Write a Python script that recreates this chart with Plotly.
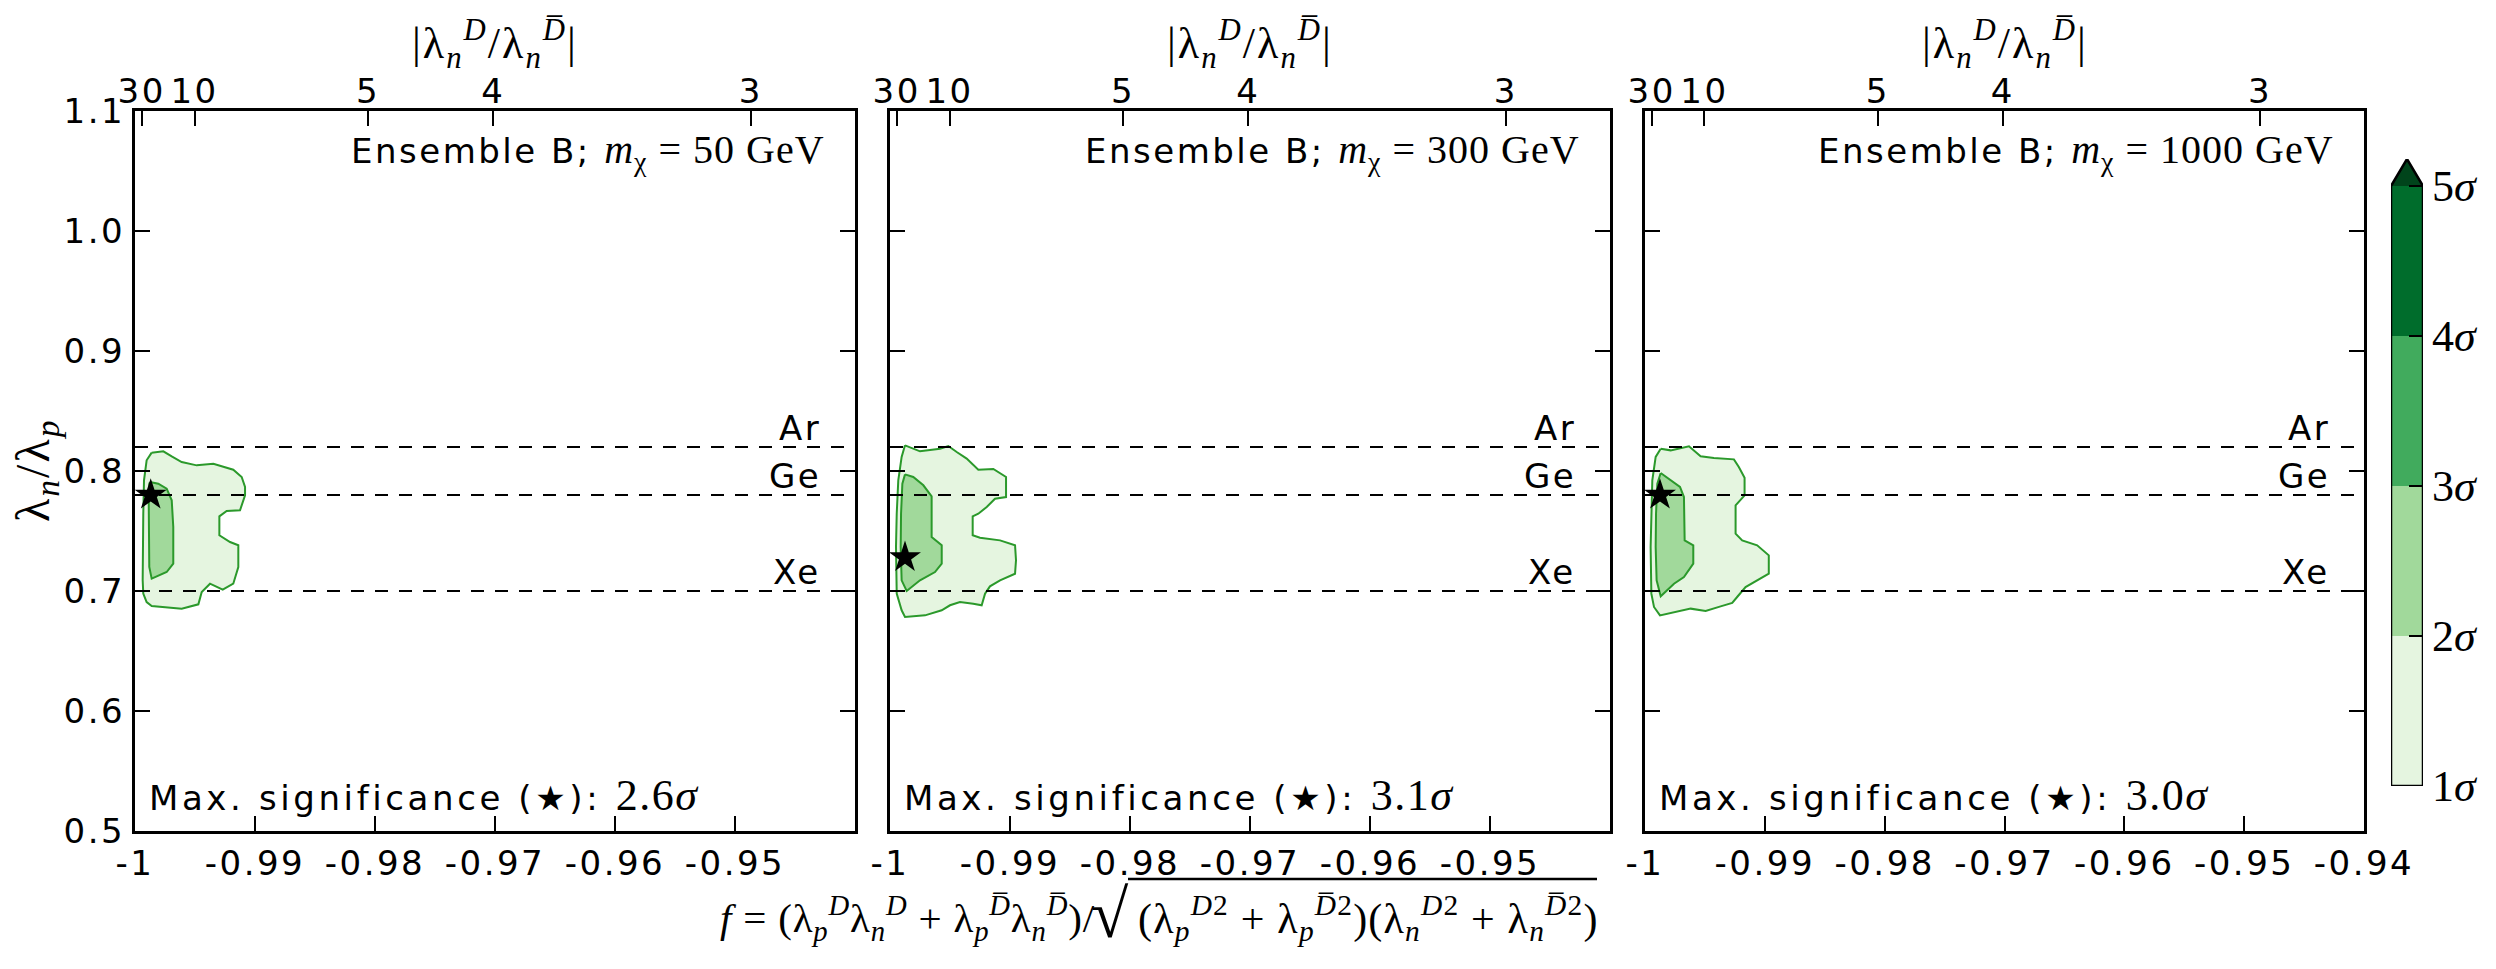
import numpy as np
import plotly.graph_objects as go

W, H = 2496, 969

# ---------------- data ----------------
masses = [50, 300, 1000]
max_sig = ["2.6", "3.1", "3.0"]
star_f = [-0.99869, -0.99875, -0.99875]
star_l = [0.780, 0.728, 0.780]

# 1-sigma (outer) contours
outer1_f = [-0.99861, -0.99764, -0.99694, -0.99611, -0.99486, -0.99347, -0.99181, -0.99111, -0.99083, -0.99083,
            -0.99125, -0.99236, -0.99297, -0.99297, -0.99208, -0.99139, -0.99139, -0.99181, -0.99269, -0.99375,
            -0.99444, -0.99472, -0.99611, -0.99736, -0.99861, -0.99903, -0.99931, -0.99936, -0.99936, -0.99931,
            -0.99925, -0.99903]
outer1_l = [0.8153, 0.8164, 0.8122, 0.8075, 0.8047, 0.8061, 0.8011, 0.7950, 0.7867, 0.7797,
            0.7672, 0.7667, 0.7622, 0.7464, 0.7408, 0.7381, 0.7200, 0.7061, 0.7011, 0.7061,
            0.6992, 0.6889, 0.6853, 0.6867, 0.6875, 0.6908, 0.6978, 0.7089, 0.7367, 0.7644,
            0.7922, 0.8089]
outer2_f = [-0.99875, -0.99750, -0.99583, -0.99514, -0.99444, -0.99361, -0.99264, -0.99139, -0.99033, -0.99033,
            -0.99125, -0.99194, -0.99264, -0.99311, -0.99311, -0.99250, -0.99083, -0.98958, -0.98950, -0.98958,
            -0.99083, -0.99167, -0.99208, -0.99236, -0.99306, -0.99417, -0.99500, -0.99569, -0.99708, -0.99875,
            -0.99903, -0.99944, -0.99950, -0.99944, -0.99931, -0.99903]
outer2_l = [0.8214, 0.8164, 0.8186, 0.8208, 0.8158, 0.8103, 0.8011, 0.8017, 0.7950, 0.7783,
            0.7769, 0.7700, 0.7644, 0.7622, 0.7464, 0.7444, 0.7422, 0.7381, 0.7256, 0.7144,
            0.7089, 0.7039, 0.6978, 0.6881, 0.6894, 0.6908, 0.6881, 0.6839, 0.6797, 0.6783,
            0.6839, 0.6978, 0.7367, 0.7644, 0.7922, 0.8117]
outer3_f = [-0.99869, -0.99786, -0.99633, -0.99536, -0.99425, -0.99258, -0.99217, -0.99169, -0.99169, -0.99244,
            -0.99244, -0.99189, -0.99064, -0.98967, -0.98967, -0.99064, -0.99161, -0.99231, -0.99272, -0.99369,
            -0.99494, -0.99619, -0.99758, -0.99875, -0.99925, -0.99947, -0.99953, -0.99947, -0.99939, -0.99911]
outer3_l = [0.8186, 0.8172, 0.8206, 0.8122, 0.8108, 0.8097, 0.8033, 0.7944, 0.7797, 0.7714,
            0.7478, 0.7422, 0.7381, 0.7297, 0.7144, 0.7089, 0.7033, 0.6950, 0.6900, 0.6872,
            0.6833, 0.6853, 0.6825, 0.6797, 0.6867, 0.6978, 0.7367, 0.7644, 0.7922, 0.8117]

# 2-sigma (inner) contours
inner1_f = [-0.99875, -0.99806, -0.99736, -0.99694, -0.99681, -0.99681, -0.99736, -0.99861, -0.99881, -0.99886,
            -0.99886, -0.99881]
inner1_l = [0.7908, 0.7894, 0.7853, 0.7756, 0.7533, 0.7228, 0.7158, 0.7103, 0.7200, 0.7506,
            0.7783, 0.7894]
inner2_f = [-0.99875, -0.99806, -0.99722, -0.99653, -0.99653, -0.99569, -0.99569, -0.99625, -0.99750, -0.99861,
            -0.99903, -0.99911, -0.99908, -0.99897]
inner2_l = [0.7972, 0.7950, 0.7881, 0.7789, 0.7450, 0.7381, 0.7228, 0.7158, 0.7089, 0.7000,
            0.7089, 0.7367, 0.7644, 0.7894]
inner3_f = [-0.99869, -0.99800, -0.99708, -0.99675, -0.99669, -0.99597, -0.99597, -0.99675, -0.99758, -0.99869,
            -0.99903, -0.99911, -0.99908, -0.99897]
inner3_l = [0.7983, 0.7936, 0.7867, 0.7783, 0.7422, 0.7381, 0.7228, 0.7117, 0.7061, 0.6956,
            0.7089, 0.7367, 0.7644, 0.7894]

outer_f = [outer1_f, outer2_f, outer3_f]
outer_l = [outer1_l, outer2_l, outer3_l]
inner_f = [inner1_f, inner2_f, inner3_f]
inner_l = [inner1_l, inner2_l, inner3_l]

elements = ["Ar", "Ge", "Xe"]
element_ratio = [0.82, 0.78, 0.70]

x_ticks = [-1.0, -0.99, -0.98, -0.97, -0.96, -0.95, -0.94]
x_ticklabels = ["-1", "-0.99", "-0.98", "-0.97", "-0.96", "-0.95", "-0.94"]
y_ticks = [0.5, 0.6, 0.7, 0.8, 0.9, 1.0, 1.1]
y_ticklabels = ["0.5", "0.6", "0.7", "0.8", "0.9", "1.0", "1.1"]
ratio_ticks = [30, 10, 5, 4, 3]
ratio_ticklabels = ["30", "10", "5", "4", "3"]

sigma_levels = [1, 2, 3, 4, 5]
sigma_labels = ["1<i>σ</i>", "2<i>σ</i>", "3<i>σ</i>", "4<i>σ</i>", "5<i>σ</i>"]
sigma_colors = ["#e5f5e0", "#a1d99b", "#41ab5d", "#006d2c"]
extend_color = "#00441b"
extend_height = 0.18

# ---------------- style / geometry ----------------
SANS = "DejaVu Sans"
SERIF = "Liberation Serif, DejaVu Serif, serif"
LINE_GREEN = "#2b992b"
FS = 34          # sans text size
LS = 2.5         # extra letter spacing (reference text is drawn wide)


def wide(t, ls=LS):
    return "<span style='letter-spacing:%spx'>%s</span>" % (ls, t)


panels_px = [(135, 855), (890, 1610), (1645, 2364)]
top_px, bot_px = 111, 831
ydom = [1 - bot_px / H, 1 - top_px / H]
xrange = [-1.0, -0.94]

fig = go.Figure()


def ax(i):
    return "" if i == 1 else str(i)


annotations = []
for k in range(3):
    xi = k + 1
    xa = "x" + ax(xi)
    ya = "y" + ax(xi)
    of = list(outer_f[k]) + [outer_f[k][0]]
    ol = list(outer_l[k]) + [outer_l[k][0]]
    fig.add_trace(go.Scatter(x=of, y=ol, mode="lines", fill="toself", fillcolor=sigma_colors[0],
                             line=dict(color=LINE_GREEN, width=2), xaxis=xa, yaxis=ya,
                             showlegend=False, hoverinfo="skip"))
    inf = list(inner_f[k]) + [inner_f[k][0]]
    inl = list(inner_l[k]) + [inner_l[k][0]]
    fig.add_trace(go.Scatter(x=inf, y=inl, mode="lines", fill="toself", fillcolor=sigma_colors[1],
                             line=dict(color=LINE_GREEN, width=2), xaxis=xa, yaxis=ya,
                             showlegend=False, hoverinfo="skip"))
    for el, r in zip(elements, element_ratio):
        fig.add_trace(go.Scatter(x=xrange, y=[r, r], mode="lines",
                                 line=dict(color="black", width=2, dash="13px,11px"),
                                 xaxis=xa, yaxis=ya, showlegend=False, hoverinfo="skip"))
        annotations.append(dict(x=xrange[1], y=r, xref=xa, yref=ya, text=wide(el), showarrow=False,
                                xanchor="right", yanchor="bottom", xshift=-32, yshift=-3,
                                font=dict(family=SANS, size=FS, color="black")))
    fig.add_trace(go.Scatter(x=[star_f[k]], y=[star_l[k]], mode="markers",
                             marker=dict(symbol="star", size=24, color="black", line=dict(width=0)),
                             xaxis=xa, yaxis=ya, showlegend=False, hoverinfo="skip"))

    x0, x1 = panels_px[k]
    dom = [x0 / W, x1 / W]
    nt = 7 if k == 2 else 6
    fig.update_layout(**{
        "xaxis" + ax(xi): dict(domain=dom, range=xrange, anchor=ya, tickmode="array",
                               tickvals=x_ticks[:nt], ticktext=[wide(t) for t in x_ticklabels[:nt]],
                               ticks="inside", ticklen=15, tickwidth=1.5, tickcolor="black",
                               showline=True, mirror=True, linewidth=3, linecolor="black",
                               showgrid=False, zeroline=False, automargin=False,
                               tickfont=dict(family=SANS, size=FS, color="black")),
        "yaxis" + ax(xi): dict(domain=ydom, range=[0.5, 1.1], anchor=xa, tickmode="array",
                               tickvals=y_ticks, ticktext=[wide(t) for t in y_ticklabels],
                               showticklabels=(k == 0),
                               ticks="inside", ticklen=15, tickwidth=1.5, tickcolor="black",
                               showline=True, mirror="ticks", linewidth=3, linecolor="black",
                               showgrid=False, zeroline=False, automargin=False,
                               tickfont=dict(family=SANS, size=FS, color="black")),
    })
    ti = xi + 3
    top_vals = [-r / np.sqrt(1 + r * r) for r in ratio_ticks]
    fig.update_layout(**{
        "xaxis" + ax(ti): dict(domain=dom, range=xrange, anchor=ya, overlaying=xa, side="top",
                               tickmode="array", tickvals=top_vals,
                               ticktext=[wide(t) for t in ratio_ticklabels],
                               ticks="inside", ticklen=15, tickwidth=1.5, tickcolor="black",
                               showline=False, showgrid=False, zeroline=False, automargin=False,
                               tickfont=dict(family=SANS, size=FS, color="black")),
    })
    fig.add_trace(go.Scatter(x=[xrange[0]], y=[0.5], mode="markers", marker=dict(opacity=0),
                             xaxis="x" + ax(ti), yaxis=ya, showlegend=False, hoverinfo="skip"))

    cx = (x0 + x1) / 2
    annotations.append(dict(x=cx / W, y=1 - 44 / H, xref="paper", yref="paper", showarrow=False,
                            xanchor="center", yanchor="middle",
                            text=wide("|λ<sub><i>n</i></sub><sup><i>D</i></sup>/λ<sub><i>n</i></sub>"
                                      "<sup><i>D̅</i></sup>|", 2),
                            font=dict(family=SERIF, size=44, color="black")))
    annotations.append(dict(x=(x1 - 28) / W, y=1 - 152 / H, xref="paper", yref="paper", showarrow=False,
                            xanchor="right", yanchor="middle",
                            text=(wide("Ensemble B; ") +
                                  "<span style='font-family:Liberation Serif;font-size:40px;letter-spacing:1px'>"
                                  "<i>m</i><sub>χ</sub> = %d GeV</span>" % masses[k]),
                            font=dict(family=SANS, size=FS, color="black")))
    annotations.append(dict(x=(x0 + 12) / W, y=1 - 795 / H, xref="paper", yref="paper", showarrow=False,
                            xanchor="left", yanchor="middle",
                            text=(wide("Max. significance (★): ", 3.6) +
                                  "<span style='font-family:Liberation Serif;font-size:44px;letter-spacing:1.5px'>"
                                  "%s<i>σ</i></span>" % max_sig[k]),
                            font=dict(family=SANS, size=34, color="black")))

# y-axis title
annotations.append(dict(x=36 / W, y=1 - 471 / H, xref="paper", yref="paper", showarrow=False,
                        xanchor="center", yanchor="middle", textangle=-90,
                        text=wide("λ<sub><i>n</i></sub>/λ<sub><i>p</i></sub>", 2),
                        font=dict(family=SERIF, size=48, color="black")))

# x-axis title formula: left part, radical sign, radicand (with a vinculum above it)
sqrt_x = 1130
formula_end_x = 1597
annotations.append(dict(x=(sqrt_x - 33) / W, y=1 - 918 / H, xref="paper", yref="paper", showarrow=False,
                        xanchor="right", yanchor="middle",
                        text=wide("<i>f</i> = (λ<sub><i>p</i></sub><sup><i>D</i></sup>λ<sub><i>n</i></sub>"
                                  "<sup><i>D</i></sup> + λ<sub><i>p</i></sub><sup><i>D̅</i></sup>λ<sub><i>n</i></sub>"
                                  "<sup><i>D̅</i></sup>)/", 0.8),
                        font=dict(family=SERIF, size=41, color="black")))
annotations.append(dict(x=(sqrt_x + 1) / W, y=1 - 914 / H, xref="paper", yref="paper", showarrow=False,
                        xanchor="right", yanchor="middle", text="√",
                        font=dict(family=SERIF, size=68, color="black")))
annotations.append(dict(x=(sqrt_x + 6) / W, y=1 - 918 / H, xref="paper", yref="paper", showarrow=False,
                        xanchor="left", yanchor="middle",
                        text=wide("(λ<sub><i>p</i></sub><sup><i>D</i>2</sup> + "
                                  "λ<sub><i>p</i></sub><sup><i>D̅</i>2</sup>)(λ<sub><i>n</i></sub><sup><i>D</i>2</sup> + "
                                  "λ<sub><i>n</i></sub><sup><i>D̅</i>2</sup>)", 1.2),
                        font=dict(family=SERIF, size=42, color="black")))
shapes = [dict(type="line", xref="paper", yref="paper", x0=(sqrt_x - 2) / W, x1=formula_end_x / W,
               y0=1 - 879 / H, y1=1 - 879 / H, line=dict(color="black", width=2.5))]

# ---------------- colorbar (its own small axis) ----------------
cb_x0, cb_x1 = 2391, 2423
cb_bot, cb_tip = 786, 159
fig.add_trace(go.Bar(x=[0.5] * 4, y=[1] * 4, base=sigma_levels[:-1], width=1,
                     marker=dict(color=sigma_colors, line=dict(width=0)),
                     xaxis="x7", yaxis="y7", showlegend=False, hoverinfo="skip"))
top = sigma_levels[-1]
fig.add_trace(go.Scatter(x=[0, 1, 0.5, 0], y=[top, top, top + extend_height, top], mode="lines",
                         fill="toself", fillcolor=extend_color, line=dict(width=0, color=extend_color),
                         xaxis="x7", yaxis="y7", showlegend=False, hoverinfo="skip"))
lo = sigma_levels[0]
fig.add_trace(go.Scatter(x=[0, 0, 0.5, 1, 1, 0], y=[lo, top, top + extend_height, top, lo, lo],
                         mode="lines", line=dict(color="black", width=2.5),
                         xaxis="x7", yaxis="y7", showlegend=False, hoverinfo="skip"))
fig.update_layout(
    xaxis7=dict(domain=[cb_x0 / W, cb_x1 / W], range=[0, 1], anchor="y7", visible=False,
                fixedrange=True, automargin=False),
    yaxis7=dict(domain=[1 - cb_bot / H, 1 - cb_tip / H], range=[lo, top + extend_height], anchor="x7",
                side="right", tickmode="array", tickvals=sigma_levels, ticktext=sigma_labels,
                ticks="inside", ticklen=14, tickwidth=1.5, tickcolor="black", ticklabelstandoff=8,
                showline=False, showgrid=False, zeroline=False, automargin=False,
                tickfont=dict(family=SERIF, size=44, color="black")),
)

fig.update_layout(width=W, height=H, margin=dict(l=0, r=0, t=0, b=0, autoexpand=False),
                  paper_bgcolor="white", plot_bgcolor="white", barmode="overlay",
                  annotations=annotations, shapes=shapes, showlegend=False)

fig.write_html("out.html")
